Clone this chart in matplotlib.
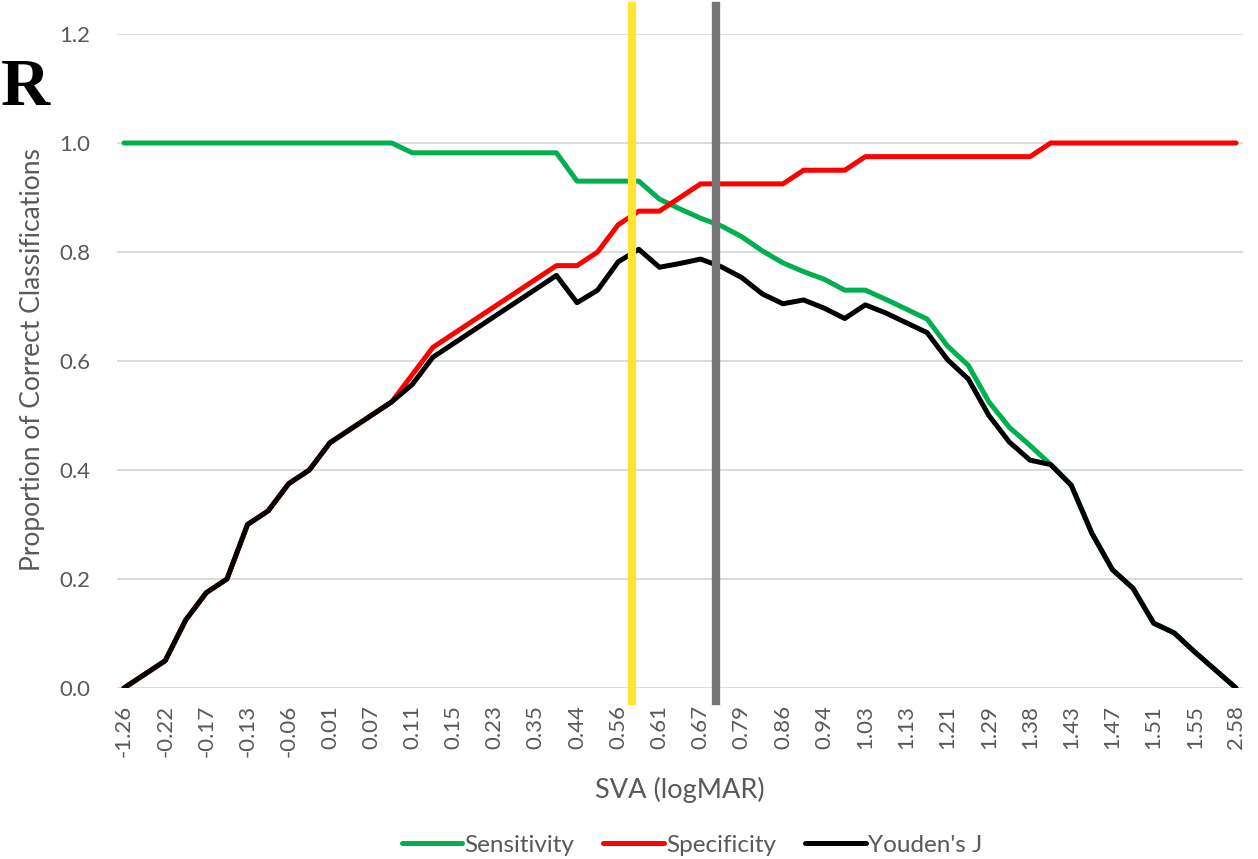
import numpy as np
import matplotlib
matplotlib.use('Agg')
import matplotlib.pyplot as plt

# x categories (only every other one is labelled on the axis)
tick_labels = ["-1.26", "-0.22", "-0.17", "-0.13", "-0.06", "0.01", "0.07", "0.11",
               "0.15", "0.23", "0.35", "0.44", "0.56", "0.61", "0.67", "0.79",
               "0.86", "0.94", "1.03", "1.13", "1.21", "1.29", "1.38", "1.43",
               "1.47", "1.51", "1.55", "2.58"]

sensitivity = [1.0, 1.0, 1.0, 1.0, 1.0, 1.0, 1.0, 1.0, 1.0, 1.0,
               1.0, 1.0, 1.0, 1.0, 0.982, 0.982, 0.982, 0.982, 0.982, 0.982,
               0.982, 0.982, 0.930, 0.930, 0.930, 0.930, 0.897, 0.879, 0.862, 0.848,
               0.828, 0.802, 0.780, 0.764, 0.750, 0.730, 0.730, 0.713, 0.695, 0.677,
               0.627, 0.592, 0.525, 0.478, 0.445, 0.410, 0.372, 0.284, 0.217, 0.183,
               0.119, 0.101, 0.066, 0.033, 0.0]

specificity = [0.0, 0.025, 0.05, 0.125, 0.175, 0.2, 0.3, 0.325, 0.375, 0.4,
               0.45, 0.475, 0.5, 0.525, 0.575, 0.625, 0.65, 0.675, 0.7, 0.725,
               0.75, 0.775, 0.775, 0.8, 0.85, 0.875, 0.875, 0.9, 0.925, 0.925,
               0.925, 0.925, 0.925, 0.95, 0.95, 0.95, 0.975, 0.975, 0.975, 0.975,
               0.975, 0.975, 0.975, 0.975, 0.975, 1.0, 1.0, 1.0, 1.0, 1.0,
               1.0, 1.0, 1.0, 1.0, 1.0]

youden_j = [0.0, 0.025, 0.05, 0.125, 0.175, 0.2, 0.3, 0.325, 0.375, 0.4,
            0.45, 0.475, 0.5, 0.525, 0.557, 0.607, 0.632, 0.657, 0.682, 0.707,
            0.732, 0.757, 0.707, 0.730, 0.782, 0.805, 0.772, 0.779, 0.787, 0.773,
            0.753, 0.723, 0.705, 0.712, 0.697, 0.678, 0.703, 0.688, 0.670, 0.652,
            0.602, 0.567, 0.500, 0.451, 0.418, 0.410, 0.372, 0.284, 0.217, 0.183,
            0.119, 0.101, 0.066, 0.033, 0.0]

# cut-off markers, in category-index units
yellow_cut = 24.65
gray_cut = 28.75

txt = '#595959'
plt.rcParams['font.family'] = ['Lato', 'DejaVu Sans']

fig = plt.figure(figsize=(12.58, 8.59), dpi=100)
ax = fig.add_axes([117/1258, 1-688/859, 1126/1258, 654/859])

x = np.arange(len(sensitivity))
ax.plot(x, sensitivity, color='#00B050', lw=3.6, label='Sensitivity', solid_capstyle='round')
ax.plot(x, specificity, color='#FF0000', lw=3.6, label='Specificity', solid_capstyle='round')
ax.plot(x, youden_j, color='#000000', lw=3.6, label="Youden's J", solid_capstyle='round')

ax.axvline(yellow_cut, ymin=-0.02, ymax=1.043, color='#FFE433', lw=6, clip_on=False, zorder=5)
ax.axvline(gray_cut, ymin=-0.02, ymax=1.043, color='#767676', lw=6, clip_on=False, zorder=5)

ax.set_xlim(-0.34, len(x) - 1 + 0.34)
ax.set_ylim(0, 1.2)
ax.set_yticks(np.arange(0, 1.21, 0.2))
ax.set_yticklabels([f"{v:.1f}" for v in np.arange(0, 1.21, 0.2)])
ax.set_xticks(np.arange(0, len(x), 2))
ax.set_xticklabels(tick_labels, rotation=90)
ax.tick_params(axis='both', length=0, colors=txt, labelsize=16)
ax.tick_params(axis='x', pad=12)
ax.tick_params(axis='y', pad=19)
ax.grid(axis='y', color='#D9D9D9', lw=1.3)
ax.set_axisbelow(True)
for s in ax.spines.values():
    s.set_visible(False)

fig.text(33/1258, 1-360/859, 'Proportion of Correct Classifications', rotation=90,
         ha='center', va='center', color=txt, fontsize=19)
fig.text(680/1258, 1-790/859, 'SVA (logMAR)', ha='center', va='center', color=txt, fontsize=19.5)

fig.legend(loc='center', bbox_to_anchor=(692/1258, 1-845/859), ncol=3, frameon=False,
           fontsize=17.5, handlelength=2.5, handletextpad=0.08, columnspacing=1.2,
           labelcolor=txt)

fig.text(1/1258, 1-105/859, 'R', fontsize=49, fontweight='bold',
         family='Liberation Serif', ha='left', va='baseline', color='black')

fig.savefig('out.png', dpi=100)
